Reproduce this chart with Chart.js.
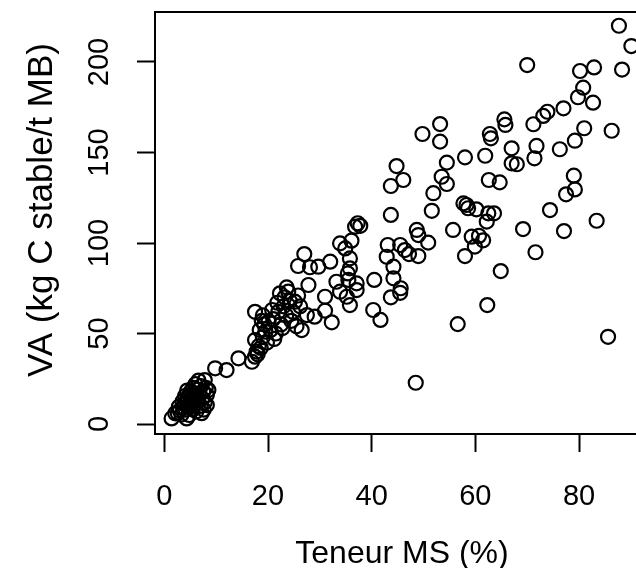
<!DOCTYPE html>
<html>
<head>
<meta charset="utf-8">
<script src="https://cdn.jsdelivr.net/npm/chart.js@4.4.1/dist/chart.umd.min.js"></script>
<style>
  html, body { margin: 0; padding: 0; background: #fff; overflow: hidden; }
  #wrap { width: 636px; height: 568px; overflow: hidden; }
  canvas { display: block; }
</style>
</head>
<body>
<div id="wrap"><canvas id="chart" width="680" height="568"></canvas></div>
<script>
// Teneur MS (%) / VA (kg C stable/t MB)
const teneurMS = [
  1.4, 2.1, 4.3, 2.6, 3.0, 3.3, 3.6, 3.9, 4.1, 4.3, 4.5, 4.6, 4.8, 5.0, 5.1, 5.3, 5.5, 5.6, 5.8, 5.9,
  6.0, 6.1, 6.3, 6.5, 6.6, 6.8, 7.0, 7.1, 7.3, 7.5, 7.6, 7.8, 8.0, 8.2, 4.8, 5.5, 6.2, 7.2, 4.0, 3.5,
  5.0, 8.5, 7.8, 8.2, 2.8, 4.4,
  9.8, 12.0, 14.3, 16.9, 17.5, 17.5, 17.8, 18.2, 18.0, 18.6, 19.0, 18.4, 19.3, 19.8, 20.1, 20.5, 21.0, 21.5, 22.0, 22.3,
  22.5, 23.0, 23.5, 23.9, 24.2, 24.5, 25.2, 25.8, 26.5, 27.5, 17.5, 19.0, 21.8, 23.2, 20.8, 18.8, 24.8, 22.8, 19.5, 25.5,
  26.2, 21.2, 25.8, 27.0, 28.1, 27.8, 23.6,
  29.0, 31.0, 33.9, 35.2, 35.8, 37.1, 31.0, 32.3, 40.3, 41.7, 43.7, 45.5, 56.6, 48.5, 29.7, 32.0, 33.9, 36.1, 34.9, 35.8,
  35.8, 35.4, 33.2, 37.1, 35.5, 40.5, 44.2, 44.2, 45.6, 42.9, 43.1, 45.5, 46.4, 47.2, 49.0, 36.8, 37.3, 37.8, 43.7, 48.7,
  49.0, 50.9, 55.7, 59.3, 58.0, 57.7, 58.3, 58.6, 51.6, 51.9, 53.5, 54.5, 54.5, 58.0, 44.8, 46.1, 43.7, 53.2, 49.8, 53.2,
  87.7, 90.1, 70.0, 80.2, 82.9, 88.3, 80.8, 79.8, 82.7, 77.0, 73.9, 73.1, 71.2, 65.6, 65.8, 62.8, 63.0, 67.0, 71.8, 76.3,
  79.2, 81.0, 86.3, 61.9, 67.0, 68.0, 71.4, 62.6, 64.7, 79.0, 79.2, 77.5, 74.4, 83.4, 69.2, 77.1, 71.6, 64.9, 60.2, 62.5,
  63.6, 62.2, 60.7, 59.9, 61.5, 62.3, 85.6
];
const valeurVA = [
  3.1, 5.9, 3.1, 6, 7.5, 5.2, 9, 11, 8, 13, 14.5, 10, 16, 12, 18, 15, 13.5, 20, 17, 11,
  22, 15, 19, 13, 24, 17, 10, 21, 14, 18, 8, 12, 20, 16, 5, 8, 7, 6, 15.5, 12.5,
  9.5, 18.8, 24.3, 10.5, 9.5, 18.5,
  30.8, 29.8, 36.3, 34.4, 37.2, 46.4, 40, 43, 38.5, 42, 48, 52, 55, 45, 56.5, 52, 58, 50, 62, 72.2,
  55, 65, 60, 73.1, 68, 57, 67.6, 71, 51.9, 60.2, 62, 60, 67, 70, 63, 57, 62, 53, 51, 54,
  65, 47, 87.3, 93.9, 86.6, 76.8, 75.5,
  59.3, 70.3, 73.1, 70.3, 65.7, 74, 62.6, 56.2, 63, 57.5, 70, 72.5, 55.2, 22.8, 86.9, 89.7, 99.8, 101.3, 97, 91.5,
  86, 83.2, 78.6, 77.7, 79.6, 79.6, 80.5, 86.9, 75, 92.4, 98.9, 98.9, 96.1, 93.9, 92.8, 109, 110.9, 109.5, 115.5, 107.2,
  104.4, 100.2, 107.2, 103.5, 92.8, 121.9, 121, 119.2, 117.8, 127.5, 136.6, 132.6, 144.4, 147.3, 142.5, 134.8, 131.5, 165.7, 160.2, 156,
  220, 208.8, 198.3, 195, 197, 195.8, 185.8, 180.5, 177.5, 174.4, 172.5, 170.2, 165.6, 168.3, 165.2, 160.2, 157.8, 152.3, 153.6, 151.8,
  156.5, 163.4, 162, 148.2, 144, 143.5, 146.8, 134.8, 133.5, 137.2, 129.6, 126.9, 118.2, 112.3, 107.7, 106.6, 94.9, 84.5, 118.6, 116.4,
  116.4, 111.8, 103.9, 98, 101.5, 65.7, 48.2
];
const xTicks = [0, 20, 40, 60, 80];
const yTicks = [0, 50, 100, 150, 200];
const xTitle = "Teneur MS (%)";
const yTitle = "VA (kg C stable/t MB)";

(function () {
  const FONT = "'Liberation Sans', Arial, sans-serif";

  const framePlugin = {
    id: "frame",
    afterDraw(chart) {
      const ctx = chart.ctx;
      const area = chart.chartArea;
      const xs = chart.scales.x;
      const ys = chart.scales.y;

      ctx.save();
      ctx.strokeStyle = "#000";
      ctx.lineWidth = 2;
      ctx.strokeRect(area.left, area.top, area.right - area.left, area.bottom - area.top);

      ctx.fillStyle = "#000";
      ctx.font = "29px " + FONT;
      ctx.textAlign = "center";
      ctx.textBaseline = "alphabetic";
      xs.ticks.forEach((t) => {
        ctx.fillText(String(t.value), xs.getPixelForValue(t.value), 505);
      });

      ys.ticks.forEach((t) => {
        ctx.save();
        ctx.translate(108, ys.getPixelForValue(t.value));
        ctx.rotate(-Math.PI / 2);
        ctx.fillText(String(t.value), 0, 0);
        ctx.restore();
      });

      ctx.font = "32px " + FONT;
      ctx.fillText(xTitle, (area.left + area.right) / 2, 563);

      ctx.font = "35px " + FONT;
      ctx.save();
      ctx.translate(52, (area.top + area.bottom) / 2 - 13);
      ctx.rotate(-Math.PI / 2);
      ctx.fillText(yTitle, 0, 0);
      ctx.restore();
      ctx.restore();
    },
  };

  const tickGrid = {
    display: true,
    drawOnChartArea: false,
    drawTicks: true,
    tickLength: 18,
    tickWidth: 2,
    tickColor: "#000",
  };

  new Chart(document.getElementById("chart"), {
    type: "scatter",
    data: {
      datasets: [
        {
          data: teneurMS.map((x, i) => ({ x: x, y: valeurVA[i] })),
          pointStyle: "circle",
          pointRadius: 7,
          pointBorderWidth: 2.2,
          pointBorderColor: "#000",
          pointBackgroundColor: "rgba(0,0,0,0)",
        },
      ],
    },
    options: {
      responsive: false,
      animation: false,
      layout: { padding: { top: 12, right: 31, bottom: 0, left: 0 } },
      plugins: { legend: { display: false }, tooltip: { enabled: false } },
      scales: {
        x: {
          type: "linear",
          min: -1.8,
          max: 93.5,
          grid: tickGrid,
          border: { display: false },
          ticks: { display: false },
          afterBuildTicks: (scale) => {
            scale.ticks = xTicks.map((v) => ({ value: v }));
          },
          afterFit: (scale) => {
            scale.height = 134;
          },
        },
        y: {
          type: "linear",
          min: -5.5,
          max: 227.6,
          grid: tickGrid,
          border: { display: false },
          ticks: { display: false },
          afterBuildTicks: (scale) => {
            scale.ticks = yTicks.map((v) => ({ value: v }));
          },
          afterFit: (scale) => {
            scale.width = 155;
          },
        },
      },
    },
    plugins: [framePlugin],
  });
})();
</script>
</body>
</html>
